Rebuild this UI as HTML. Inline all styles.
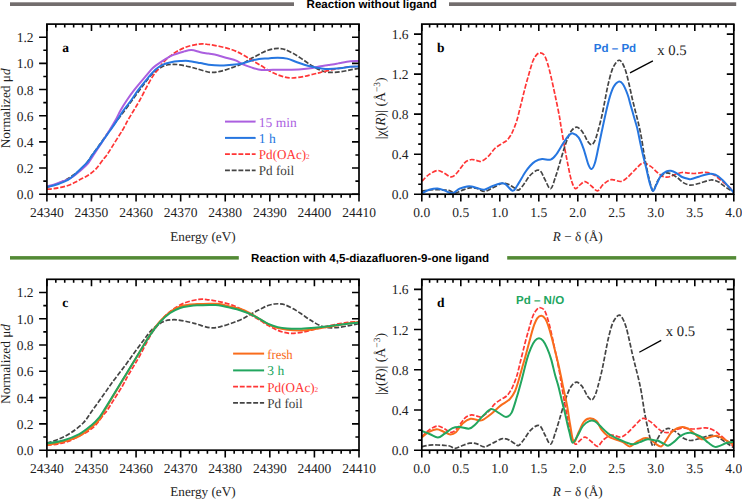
<!DOCTYPE html><html><head><meta charset="utf-8"><style>
html,body{margin:0;padding:0;background:#fff;}
svg{display:block;text-rendering:geometricPrecision;}
.t{font-family:"Liberation Serif",serif;font-size:13.5px;fill:#1e1e1e;}
.b{font-family:"Liberation Serif",serif;font-size:13.5px;font-weight:bold;fill:#000;}
.h{font-family:"Liberation Sans",sans-serif;font-size:11.55px;font-weight:bold;fill:#000;}
.s{font-family:"Liberation Sans",sans-serif;font-size:11.55px;font-weight:bold;}
</style></head><body>
<svg width="742" height="499" viewBox="0 0 742 499">
<defs>
<clipPath id="ca"><rect x="46.90" y="22.10" width="312.10" height="174.10"/></clipPath>
<clipPath id="cb"><rect x="421.80" y="22.10" width="312.00" height="174.10"/></clipPath>
<clipPath id="cc"><rect x="46.90" y="277.30" width="312.10" height="174.90"/></clipPath>
<clipPath id="cd"><rect x="421.80" y="277.30" width="312.00" height="174.90"/></clipPath>
</defs>
<rect x="10" y="2.3" width="284" height="3.7" fill="#726d6d"/>
<rect x="449" y="2.3" width="287.2" height="3.7" fill="#726d6d"/>
<text x="306.6" y="8.1" class="h">Reaction without ligand</text>
<rect x="10" y="256.1" width="228.8" height="3.5" fill="#538a35"/>
<rect x="507.2" y="256.1" width="229" height="3.5" fill="#538a35"/>
<text x="251.1" y="262.2" class="h">Reaction with 4,5-diazafluoren-9-one ligand</text>
<path d="M46.90,187.20 C48.93,186.52 55.03,184.87 59.10,183.10 C63.17,181.33 67.25,179.30 71.30,176.60 C75.35,173.90 79.90,170.53 83.40,166.90 C86.90,163.27 89.00,159.35 92.30,154.80 C95.60,150.25 99.58,144.67 103.20,139.60 C106.82,134.53 110.35,129.33 114.00,124.40 C117.65,119.47 121.68,114.57 125.10,110.00 C128.52,105.43 131.35,101.30 134.50,97.00 C137.65,92.70 141.08,88.00 144.00,84.20 C146.92,80.40 148.82,77.18 152.00,74.20 C155.18,71.22 159.75,67.93 163.10,66.30 C166.45,64.67 169.27,64.63 172.10,64.40 C174.93,64.17 177.12,64.48 180.10,64.90 C183.08,65.32 187.17,66.25 190.00,66.90 C192.83,67.55 193.75,67.90 197.10,68.80 C200.45,69.70 206.28,71.87 210.10,72.30 C213.92,72.73 216.33,72.18 220.00,71.40 C223.67,70.62 228.30,68.93 232.10,67.60 C235.90,66.27 239.92,64.77 242.80,63.40 C245.68,62.03 247.30,60.57 249.40,59.40 C251.50,58.23 253.37,57.45 255.40,56.40 C257.43,55.35 259.50,54.13 261.60,53.10 C263.70,52.07 265.82,50.93 268.00,50.20 C270.18,49.47 272.70,48.98 274.70,48.70 C276.70,48.42 278.23,48.35 280.00,48.50 C281.77,48.65 283.17,48.82 285.30,49.60 C287.43,50.38 290.28,51.82 292.80,53.20 C295.32,54.58 297.88,56.25 300.40,57.90 C302.92,59.55 305.92,61.77 307.90,63.10 C309.88,64.43 310.22,64.70 312.30,65.90 C314.38,67.10 317.70,69.23 320.40,70.30 C323.10,71.37 325.23,72.03 328.50,72.30 C331.77,72.57 336.35,72.30 340.00,71.90 C343.65,71.50 347.23,70.50 350.40,69.90 C353.57,69.30 357.57,68.57 359.00,68.30" fill="none" stroke="#444444" stroke-width="1.70" stroke-dasharray="4.9 1.8" stroke-linejoin="round" clip-path="url(#ca)"/>
<path d="M46.90,189.20 C48.02,189.10 51.28,188.90 53.60,188.60 C55.92,188.30 58.40,187.92 60.80,187.40 C63.20,186.88 65.72,186.30 68.00,185.50 C70.28,184.70 72.33,183.67 74.50,182.60 C76.67,181.53 78.85,180.23 81.00,179.10 C83.15,177.97 84.98,177.42 87.40,175.80 C89.82,174.18 92.80,172.22 95.50,169.40 C98.20,166.58 101.68,161.33 103.60,158.90 C105.52,156.47 105.13,157.55 107.00,154.80 C108.87,152.05 112.20,146.53 114.80,142.40 C117.40,138.27 120.40,133.73 122.60,130.00 C124.80,126.27 126.10,123.33 128.00,120.00 C129.90,116.67 132.02,113.33 134.00,110.00 C135.98,106.67 137.83,103.75 139.90,100.00 C141.97,96.25 144.25,91.47 146.40,87.50 C148.55,83.53 150.78,79.30 152.80,76.20 C154.82,73.10 156.73,71.20 158.50,68.90 C160.27,66.60 161.13,64.78 163.40,62.40 C165.67,60.02 168.62,57.05 172.10,54.60 C175.58,52.15 179.85,49.45 184.30,47.70 C188.75,45.95 194.77,44.63 198.80,44.10 C202.83,43.57 204.97,44.10 208.50,44.50 C212.03,44.90 216.07,45.63 220.00,46.50 C223.93,47.37 228.45,48.42 232.10,49.70 C235.75,50.98 238.70,52.52 241.90,54.20 C245.10,55.88 248.15,57.92 251.30,59.80 C254.45,61.68 257.97,63.77 260.80,65.50 C263.63,67.23 265.80,68.78 268.30,70.20 C270.80,71.62 273.35,72.93 275.80,74.00 C278.25,75.07 280.28,75.93 283.00,76.60 C285.72,77.27 288.55,78.03 292.10,78.00 C295.65,77.97 300.65,77.07 304.30,76.40 C307.95,75.73 311.37,74.63 314.00,74.00 C316.63,73.37 317.62,73.20 320.10,72.60 C322.58,72.00 325.58,71.13 328.90,70.40 C332.22,69.67 336.48,68.80 340.00,68.20 C343.52,67.60 346.83,67.10 350.00,66.80 C353.17,66.50 357.50,66.47 359.00,66.40" fill="none" stroke="#ff3535" stroke-width="1.70" stroke-dasharray="4.9 1.8" stroke-linejoin="round" clip-path="url(#ca)"/>
<path d="M46.90,186.50 C48.02,186.18 51.68,185.18 53.60,184.60 C55.52,184.02 56.80,183.57 58.40,183.00 C60.00,182.43 61.60,181.80 63.20,181.20 C64.80,180.60 66.40,180.13 68.00,179.40 C69.60,178.67 70.92,178.12 72.80,176.80 C74.68,175.48 76.87,173.62 79.30,171.50 C81.73,169.38 85.10,166.75 87.40,164.10 C89.70,161.45 90.75,159.12 93.10,155.60 C95.45,152.08 98.73,147.27 101.50,143.00 C104.27,138.73 107.35,133.83 109.70,130.00 C112.05,126.17 113.76,123.33 115.60,120.00 C117.44,116.67 118.85,113.33 120.75,110.00 C122.65,106.67 124.74,103.35 127.00,100.00 C129.26,96.65 131.07,94.00 134.30,89.90 C137.53,85.80 143.32,79.03 146.40,75.40 C149.48,71.77 150.53,70.22 152.80,68.10 C155.07,65.98 156.78,64.82 160.00,62.70 C163.22,60.58 168.05,57.28 172.10,55.40 C176.15,53.52 181.07,52.28 184.30,51.40 C187.53,50.52 188.82,49.97 191.50,50.10 C194.18,50.23 197.57,51.62 200.40,52.20 C203.23,52.78 205.80,53.13 208.50,53.60 C211.20,54.07 214.68,54.60 216.60,55.00 C218.52,55.40 218.08,55.47 220.00,56.00 C221.92,56.53 225.40,57.42 228.10,58.20 C230.80,58.98 233.72,59.67 236.20,60.70 C238.68,61.73 240.48,63.28 243.00,64.40 C245.52,65.52 248.18,66.47 251.30,67.40 C254.42,68.33 258.08,69.62 261.70,70.00 C265.32,70.38 268.75,69.75 273.00,69.70 C277.25,69.65 282.48,69.78 287.20,69.70 C291.92,69.62 297.12,69.50 301.30,69.20 C305.48,68.90 309.12,68.38 312.30,67.90 C315.48,67.42 317.70,66.77 320.40,66.30 C323.10,65.83 325.80,65.52 328.50,65.10 C331.20,64.68 334.63,64.17 336.60,63.80 C338.57,63.43 338.00,63.33 340.30,62.90 C342.60,62.47 347.28,61.52 350.40,61.20 C353.52,60.88 357.57,61.03 359.00,61.00" fill="none" stroke="#ab5fdf" stroke-width="2.00" stroke-linejoin="round" clip-path="url(#ca)"/>
<path d="M46.90,187.10 C48.02,186.83 51.68,186.02 53.60,185.50 C55.52,184.98 56.80,184.57 58.40,184.00 C60.00,183.43 61.60,182.78 63.20,182.10 C64.80,181.42 66.40,180.87 68.00,179.90 C69.60,178.93 70.92,177.92 72.80,176.30 C74.68,174.68 76.87,172.57 79.30,170.20 C81.73,167.83 85.10,164.80 87.40,162.10 C89.70,159.40 90.70,157.33 93.10,154.00 C95.50,150.67 98.90,146.10 101.80,142.10 C104.70,138.10 107.92,133.68 110.50,130.00 C113.08,126.32 115.05,123.33 117.25,120.00 C119.45,116.67 121.34,113.33 123.70,110.00 C126.06,106.67 128.97,103.35 131.40,100.00 C133.83,96.65 135.53,93.60 138.30,89.90 C141.07,86.20 145.17,81.17 148.00,77.80 C150.83,74.43 152.88,71.85 155.30,69.70 C157.72,67.55 160.05,66.12 162.50,64.90 C164.95,63.68 167.05,63.03 170.00,62.40 C172.95,61.77 177.15,61.35 180.20,61.10 C183.25,60.85 184.93,60.57 188.30,60.90 C191.67,61.23 197.03,62.47 200.40,63.10 C203.77,63.73 205.23,64.30 208.50,64.70 C211.77,65.10 216.07,65.50 220.00,65.50 C223.93,65.50 228.77,64.95 232.10,64.70 C235.43,64.45 237.12,64.58 240.00,64.00 C242.88,63.42 246.25,62.05 249.40,61.20 C252.55,60.35 255.75,59.37 258.90,58.90 C262.05,58.43 265.17,58.60 268.30,58.40 C271.43,58.20 274.55,57.67 277.70,57.70 C280.85,57.73 284.08,57.88 287.20,58.60 C290.32,59.32 293.55,60.98 296.40,62.00 C299.25,63.02 301.65,63.92 304.30,64.70 C306.95,65.48 309.62,66.10 312.30,66.70 C314.98,67.30 317.70,67.90 320.40,68.30 C323.10,68.70 325.23,69.10 328.50,69.10 C331.77,69.10 336.35,68.70 340.00,68.30 C343.65,67.90 347.23,67.00 350.40,66.70 C353.57,66.40 357.57,66.53 359.00,66.50" fill="none" stroke="#2676e0" stroke-width="2.00" stroke-linejoin="round" clip-path="url(#ca)"/>
<path d="M46.90,194.20 V201.40 M46.90,24.10 V31.10 M91.49,194.20 V201.40 M91.49,24.10 V31.10 M136.07,194.20 V201.40 M136.07,24.10 V31.10 M180.66,194.20 V201.40 M180.66,24.10 V31.10 M225.24,194.20 V201.40 M225.24,24.10 V31.10 M269.83,194.20 V201.40 M269.83,24.10 V31.10 M314.41,194.20 V201.40 M314.41,24.10 V31.10 M359.00,194.20 V201.40 M359.00,24.10 V31.10 M55.82,194.20 V197.80 M55.82,24.10 V27.50 M64.73,194.20 V197.80 M64.73,24.10 V27.50 M73.65,194.20 V197.80 M73.65,24.10 V27.50 M82.57,194.20 V197.80 M82.57,24.10 V27.50 M100.40,194.20 V197.80 M100.40,24.10 V27.50 M109.32,194.20 V197.80 M109.32,24.10 V27.50 M118.24,194.20 V197.80 M118.24,24.10 V27.50 M127.15,194.20 V197.80 M127.15,24.10 V27.50 M144.99,194.20 V197.80 M144.99,24.10 V27.50 M153.91,194.20 V197.80 M153.91,24.10 V27.50 M162.82,194.20 V197.80 M162.82,24.10 V27.50 M171.74,194.20 V197.80 M171.74,24.10 V27.50 M189.57,194.20 V197.80 M189.57,24.10 V27.50 M198.49,194.20 V197.80 M198.49,24.10 V27.50 M207.41,194.20 V197.80 M207.41,24.10 V27.50 M216.33,194.20 V197.80 M216.33,24.10 V27.50 M234.16,194.20 V197.80 M234.16,24.10 V27.50 M243.08,194.20 V197.80 M243.08,24.10 V27.50 M251.99,194.20 V197.80 M251.99,24.10 V27.50 M260.91,194.20 V197.80 M260.91,24.10 V27.50 M278.75,194.20 V197.80 M278.75,24.10 V27.50 M287.66,194.20 V197.80 M287.66,24.10 V27.50 M296.58,194.20 V197.80 M296.58,24.10 V27.50 M305.50,194.20 V197.80 M305.50,24.10 V27.50 M323.33,194.20 V197.80 M323.33,24.10 V27.50 M332.25,194.20 V197.80 M332.25,24.10 V27.50 M341.17,194.20 V197.80 M341.17,24.10 V27.50 M350.08,194.20 V197.80 M350.08,24.10 V27.50" stroke="#000" stroke-width="1.6" fill="none"/>
<text x="46.90" y="216.90" text-anchor="middle" class="t">24340</text>
<text x="91.49" y="216.90" text-anchor="middle" class="t">24350</text>
<text x="136.07" y="216.90" text-anchor="middle" class="t">24360</text>
<text x="180.66" y="216.90" text-anchor="middle" class="t">24370</text>
<text x="225.24" y="216.90" text-anchor="middle" class="t">24380</text>
<text x="269.83" y="216.90" text-anchor="middle" class="t">24390</text>
<text x="314.41" y="216.90" text-anchor="middle" class="t">24400</text>
<text x="359.00" y="216.90" text-anchor="middle" class="t">24410</text>
<path d="M46.90,194.20 H39.10 M359.00,194.20 H352.00 M46.90,168.03 H39.10 M359.00,168.03 H352.00 M46.90,141.86 H39.10 M359.00,141.86 H352.00 M46.90,115.69 H39.10 M359.00,115.69 H352.00 M46.90,89.52 H39.10 M359.00,89.52 H352.00 M46.90,63.35 H39.10 M359.00,63.35 H352.00 M46.90,37.18 H39.10 M359.00,37.18 H352.00 M46.90,181.12 H43.30 M359.00,181.12 H355.40 M46.90,154.95 H43.30 M359.00,154.95 H355.40 M46.90,128.78 H43.30 M359.00,128.78 H355.40 M46.90,102.61 H43.30 M359.00,102.61 H355.40 M46.90,76.44 H43.30 M359.00,76.44 H355.40 M46.90,50.27 H43.30 M359.00,50.27 H355.40" stroke="#000" stroke-width="1.6" fill="none"/>
<text x="33.60" y="199.20" text-anchor="end" class="t">0.0</text>
<text x="33.60" y="173.03" text-anchor="end" class="t">0.2</text>
<text x="33.60" y="146.86" text-anchor="end" class="t">0.4</text>
<text x="33.60" y="120.69" text-anchor="end" class="t">0.6</text>
<text x="33.60" y="94.52" text-anchor="end" class="t">0.8</text>
<text x="33.60" y="68.35" text-anchor="end" class="t">1.0</text>
<text x="33.60" y="42.18" text-anchor="end" class="t">1.2</text>
<rect x="46.90" y="24.10" width="312.10" height="170.10" fill="none" stroke="#000" stroke-width="1.7"/>
<text transform="translate(10.10,108.35) rotate(-90)" text-anchor="middle" class="t" style="font-size:13.3px">Normalized μ<tspan font-style="italic">d</tspan></text>
<text x="202.95" y="240.50" text-anchor="middle" class="t" style="font-size:13.2px">Energy (eV)</text>
<text x="62.2" y="52.3" class="b">a</text>
<line x1="225.00" y1="121.60" x2="255.60" y2="121.60" stroke="#ab5fdf" stroke-width="2.00"/>
<text x="258.80" y="126.60" class="t" style="fill:#ab5fdf">15 min</text>
<line x1="225.00" y1="137.90" x2="255.60" y2="137.90" stroke="#2676e0" stroke-width="2.00"/>
<text x="258.80" y="142.90" class="t" style="fill:#2676e0">1 h</text>
<line x1="225.00" y1="154.10" x2="255.60" y2="154.10" stroke="#ff3535" stroke-width="1.70" stroke-dasharray="4.9 1.8"/>
<text x="258.80" y="159.10" class="t" style="fill:#ff3535" textLength="50.92" lengthAdjust="spacingAndGlyphs">Pd(OAc)<tspan style="font-size:7.5px">2</tspan></text>
<line x1="225.00" y1="170.40" x2="255.60" y2="170.40" stroke="#444444" stroke-width="1.70" stroke-dasharray="4.9 1.8"/>
<text x="258.80" y="175.40" class="t" style="fill:#3c3c3c" textLength="35.29" lengthAdjust="spacingAndGlyphs">Pd foil</text>
<path d="M421.80,181.20 C423.03,180.07 426.58,176.18 429.20,174.40 C431.82,172.62 435.03,170.73 437.50,170.50 C439.97,170.27 441.70,171.93 444.00,173.00 C446.30,174.07 449.15,176.90 451.30,176.90 C453.45,176.90 455.05,174.87 456.90,173.00 C458.75,171.13 460.87,167.62 462.40,165.70 C463.93,163.78 464.57,162.53 466.10,161.50 C467.63,160.47 469.78,159.65 471.60,159.50 C473.42,159.35 475.35,160.30 477.00,160.60 C478.65,160.90 479.63,162.00 481.50,161.30 C483.37,160.60 485.98,158.53 488.20,156.40 C490.42,154.27 492.60,150.58 494.80,148.50 C497.00,146.42 499.42,145.22 501.40,143.90 C503.38,142.58 505.15,142.03 506.70,140.60 C508.25,139.17 509.60,137.07 510.70,135.30 C511.80,133.53 512.25,132.55 513.30,130.00 C514.35,127.45 515.72,124.32 517.00,120.00 C518.28,115.68 519.67,109.42 521.00,104.10 C522.33,98.78 523.67,93.17 525.00,88.10 C526.33,83.03 527.67,78.25 529.00,73.70 C530.33,69.15 531.67,64.02 533.00,60.80 C534.33,57.58 535.78,55.73 537.00,54.40 C538.22,53.07 539.08,52.67 540.30,52.80 C541.52,52.93 543.10,53.47 544.30,55.20 C545.50,56.93 546.43,59.85 547.50,63.20 C548.57,66.55 549.63,70.88 550.70,75.30 C551.77,79.72 552.97,85.43 553.90,89.70 C554.83,93.97 555.37,96.37 556.30,100.90 C557.23,105.43 558.70,112.53 559.50,116.90 C560.30,121.27 560.25,122.02 561.10,127.10 C561.95,132.18 563.43,140.97 564.60,147.40 C565.77,153.83 566.93,160.08 568.10,165.70 C569.27,171.32 570.38,177.28 571.60,181.10 C572.82,184.92 574.00,187.97 575.40,188.60 C576.80,189.23 578.38,186.07 580.00,184.90 C581.62,183.73 583.17,181.38 585.10,181.60 C587.03,181.82 589.52,184.67 591.60,186.20 C593.68,187.73 595.62,191.13 597.60,190.80 C599.58,190.47 601.20,186.07 603.50,184.20 C605.80,182.33 608.53,180.05 611.40,179.60 C614.27,179.15 618.05,181.83 620.70,181.50 C623.35,181.17 624.88,179.58 627.30,177.60 C629.72,175.62 632.60,172.03 635.20,169.60 C637.80,167.17 640.32,163.53 642.90,163.00 C645.48,162.47 648.28,164.82 650.70,166.40 C653.12,167.98 655.35,170.83 657.40,172.50 C659.45,174.17 661.13,175.65 663.00,176.40 C664.87,177.15 666.72,177.27 668.60,177.00 C670.48,176.73 672.05,175.55 674.30,174.80 C676.55,174.05 679.68,172.78 682.10,172.50 C684.52,172.22 686.78,172.93 688.80,173.10 C690.82,173.27 692.07,173.58 694.20,173.50 C696.33,173.42 699.30,172.75 701.60,172.60 C703.90,172.45 705.85,172.15 708.00,172.60 C710.15,173.05 712.50,174.15 714.50,175.30 C716.50,176.45 718.15,178.03 720.00,179.50 C721.85,180.97 723.90,182.72 725.60,184.10 C727.30,185.48 728.83,186.65 730.20,187.80 C731.57,188.95 733.20,190.47 733.80,191.00" fill="none" stroke="#ff3535" stroke-width="1.70" stroke-dasharray="4.9 1.8" stroke-linejoin="round" clip-path="url(#cb)"/>
<path d="M421.80,191.20 C423.08,190.97 426.88,190.07 429.50,189.80 C432.12,189.53 435.08,189.57 437.50,189.60 C439.92,189.63 442.00,189.83 444.00,190.00 C446.00,190.17 447.67,190.12 449.50,190.60 C451.33,191.08 453.00,192.90 455.00,192.90 C457.00,192.90 459.03,191.45 461.50,190.60 C463.97,189.75 467.22,188.15 469.80,187.80 C472.38,187.45 474.58,187.88 477.00,188.50 C479.42,189.12 481.77,191.57 484.30,191.50 C486.83,191.43 489.35,189.43 492.20,188.10 C495.05,186.77 499.10,184.25 501.40,183.50 C503.70,182.75 504.67,183.38 506.00,183.60 C507.33,183.82 507.97,184.05 509.40,184.80 C510.83,185.55 513.07,187.22 514.60,188.10 C516.13,188.98 517.05,190.75 518.60,190.10 C520.15,189.45 522.00,186.63 523.90,184.20 C525.80,181.77 527.83,177.82 530.00,175.50 C532.17,173.18 535.07,170.92 536.90,170.30 C538.73,169.68 539.65,170.23 541.00,171.80 C542.35,173.37 543.40,176.87 545.00,179.70 C546.60,182.53 548.85,189.27 550.60,188.80 C552.35,188.33 554.10,180.75 555.50,176.90 C556.90,173.05 557.72,169.92 559.00,165.70 C560.28,161.48 561.80,156.05 563.20,151.60 C564.60,147.15 566.00,142.50 567.40,139.00 C568.80,135.50 570.07,132.58 571.60,130.60 C573.13,128.62 574.95,127.10 576.60,127.10 C578.25,127.10 580.10,129.08 581.50,130.60 C582.90,132.12 583.98,134.43 585.00,136.20 C586.02,137.97 586.50,139.77 587.60,141.20 C588.70,142.63 590.38,144.90 591.60,144.80 C592.82,144.70 593.88,142.73 594.90,140.60 C595.92,138.47 596.55,136.08 597.70,132.00 C598.85,127.92 600.58,121.42 601.80,116.10 C603.02,110.78 603.93,105.43 605.00,100.10 C606.07,94.77 607.00,89.18 608.20,84.10 C609.40,79.02 610.85,73.22 612.20,69.60 C613.55,65.98 615.08,63.95 616.30,62.40 C617.52,60.85 618.42,60.03 619.50,60.30 C620.58,60.57 621.72,62.05 622.80,64.00 C623.88,65.95 624.93,68.53 626.00,72.00 C627.07,75.47 628.13,80.25 629.20,84.80 C630.27,89.35 631.33,94.75 632.40,99.30 C633.47,103.85 634.53,107.83 635.60,112.10 C636.67,116.37 637.82,120.58 638.80,124.90 C639.78,129.22 640.55,132.68 641.50,138.00 C642.45,143.32 643.43,150.87 644.50,156.80 C645.57,162.73 646.77,168.55 647.90,173.60 C649.03,178.65 650.37,184.28 651.30,187.10 C652.23,189.92 652.48,191.43 653.50,190.50 C654.52,189.57 655.82,184.22 657.40,181.50 C658.98,178.78 661.13,175.60 663.00,174.20 C664.87,172.80 666.35,172.63 668.60,173.10 C670.85,173.57 674.07,175.42 676.50,177.00 C678.93,178.58 681.15,181.28 683.20,182.60 C685.25,183.92 687.27,184.50 688.80,184.90 C690.33,185.30 690.58,185.28 692.40,185.00 C694.22,184.72 696.63,184.03 699.70,183.20 C702.77,182.37 707.72,180.23 710.80,180.00 C713.88,179.77 715.90,180.73 718.20,181.80 C720.50,182.87 722.45,184.93 724.60,186.40 C726.75,187.87 729.57,189.62 731.10,190.60 C732.63,191.58 733.35,192.02 733.80,192.30" fill="none" stroke="#444444" stroke-width="1.70" stroke-dasharray="4.9 1.8" stroke-linejoin="round" clip-path="url(#cb)"/>
<path d="M421.80,193.20 C423.03,192.63 426.58,190.58 429.20,189.80 C431.82,189.02 434.88,188.37 437.50,188.50 C440.12,188.63 442.43,189.80 444.90,190.60 C447.37,191.40 449.85,193.62 452.30,193.30 C454.75,192.98 457.15,189.85 459.60,188.70 C462.05,187.55 465.00,186.78 467.00,186.40 C469.00,186.02 469.93,186.13 471.60,186.40 C473.27,186.67 474.88,187.45 477.00,188.00 C479.12,188.55 481.77,190.00 484.30,189.70 C486.83,189.40 489.57,187.23 492.20,186.20 C494.83,185.17 497.90,183.83 500.10,183.50 C502.30,183.17 503.30,182.98 505.40,184.20 C507.50,185.42 510.72,190.58 512.70,190.80 C514.68,191.02 515.22,188.58 517.30,185.50 C519.38,182.42 523.08,175.55 525.20,172.30 C527.32,169.05 528.33,167.82 530.00,166.00 C531.67,164.18 533.18,162.55 535.20,161.40 C537.22,160.25 539.53,159.40 542.10,159.10 C544.67,158.80 548.25,160.37 550.60,159.60 C552.95,158.83 554.10,157.23 556.20,154.50 C558.30,151.77 561.10,146.37 563.20,143.20 C565.30,140.03 567.17,137.13 568.80,135.50 C570.43,133.87 571.35,133.05 573.00,133.40 C574.65,133.75 576.93,135.03 578.70,137.60 C580.47,140.17 582.00,144.33 583.60,148.80 C585.20,153.27 586.97,161.03 588.30,164.40 C589.63,167.77 590.50,169.23 591.60,169.00 C592.70,168.77 593.80,166.42 594.90,163.00 C596.00,159.58 597.05,153.78 598.20,148.50 C599.35,143.22 600.53,137.23 601.80,131.30 C603.07,125.37 604.47,118.63 605.80,112.90 C607.13,107.17 608.47,101.30 609.80,96.90 C611.13,92.50 612.32,89.05 613.80,86.50 C615.28,83.95 617.20,82.02 618.70,81.60 C620.20,81.18 621.32,81.85 622.80,84.00 C624.28,86.15 626.27,90.88 627.60,94.50 C628.93,98.12 629.73,101.97 630.80,105.70 C631.87,109.43 632.93,113.17 634.00,116.90 C635.07,120.63 636.15,123.75 637.20,128.10 C638.25,132.45 639.33,138.52 640.30,143.00 C641.27,147.48 642.02,150.83 643.00,155.00 C643.98,159.17 645.10,163.40 646.20,168.00 C647.30,172.60 648.48,178.77 649.60,182.60 C650.72,186.43 651.78,190.62 652.90,191.00 C654.02,191.38 654.98,187.42 656.30,184.90 C657.62,182.38 659.12,178.15 660.80,175.90 C662.48,173.65 664.72,172.25 666.40,171.40 C668.08,170.55 669.22,170.52 670.90,170.80 C672.58,171.08 674.63,172.07 676.50,173.10 C678.37,174.13 680.05,176.02 682.10,177.00 C684.15,177.98 687.23,178.67 688.80,179.00 C690.37,179.33 689.83,179.38 691.50,179.00 C693.17,178.62 696.35,177.47 698.80,176.70 C701.25,175.93 703.90,174.85 706.20,174.40 C708.50,173.95 710.60,173.68 712.60,174.00 C714.60,174.32 716.35,175.08 718.20,176.30 C720.05,177.52 722.02,179.62 723.70,181.30 C725.38,182.98 726.62,184.53 728.30,186.40 C729.98,188.27 732.88,191.48 733.80,192.50" fill="none" stroke="#2676e0" stroke-width="2.00" stroke-linejoin="round" clip-path="url(#cb)"/>
<path d="M421.80,194.20 V201.40 M421.80,24.10 V31.10 M460.80,194.20 V201.40 M460.80,24.10 V31.10 M499.80,194.20 V201.40 M499.80,24.10 V31.10 M538.80,194.20 V201.40 M538.80,24.10 V31.10 M577.80,194.20 V201.40 M577.80,24.10 V31.10 M616.80,194.20 V201.40 M616.80,24.10 V31.10 M655.80,194.20 V201.40 M655.80,24.10 V31.10 M694.80,194.20 V201.40 M694.80,24.10 V31.10 M733.80,194.20 V201.40 M733.80,24.10 V31.10 M429.60,194.20 V197.80 M429.60,24.10 V27.50 M437.40,194.20 V197.80 M437.40,24.10 V27.50 M445.20,194.20 V197.80 M445.20,24.10 V27.50 M453.00,194.20 V197.80 M453.00,24.10 V27.50 M468.60,194.20 V197.80 M468.60,24.10 V27.50 M476.40,194.20 V197.80 M476.40,24.10 V27.50 M484.20,194.20 V197.80 M484.20,24.10 V27.50 M492.00,194.20 V197.80 M492.00,24.10 V27.50 M507.60,194.20 V197.80 M507.60,24.10 V27.50 M515.40,194.20 V197.80 M515.40,24.10 V27.50 M523.20,194.20 V197.80 M523.20,24.10 V27.50 M531.00,194.20 V197.80 M531.00,24.10 V27.50 M546.60,194.20 V197.80 M546.60,24.10 V27.50 M554.40,194.20 V197.80 M554.40,24.10 V27.50 M562.20,194.20 V197.80 M562.20,24.10 V27.50 M570.00,194.20 V197.80 M570.00,24.10 V27.50 M585.60,194.20 V197.80 M585.60,24.10 V27.50 M593.40,194.20 V197.80 M593.40,24.10 V27.50 M601.20,194.20 V197.80 M601.20,24.10 V27.50 M609.00,194.20 V197.80 M609.00,24.10 V27.50 M624.60,194.20 V197.80 M624.60,24.10 V27.50 M632.40,194.20 V197.80 M632.40,24.10 V27.50 M640.20,194.20 V197.80 M640.20,24.10 V27.50 M648.00,194.20 V197.80 M648.00,24.10 V27.50 M663.60,194.20 V197.80 M663.60,24.10 V27.50 M671.40,194.20 V197.80 M671.40,24.10 V27.50 M679.20,194.20 V197.80 M679.20,24.10 V27.50 M687.00,194.20 V197.80 M687.00,24.10 V27.50 M702.60,194.20 V197.80 M702.60,24.10 V27.50 M710.40,194.20 V197.80 M710.40,24.10 V27.50 M718.20,194.20 V197.80 M718.20,24.10 V27.50 M726.00,194.20 V197.80 M726.00,24.10 V27.50" stroke="#000" stroke-width="1.6" fill="none"/>
<text x="421.80" y="216.90" text-anchor="middle" class="t">0.0</text>
<text x="460.80" y="216.90" text-anchor="middle" class="t">0.5</text>
<text x="499.80" y="216.90" text-anchor="middle" class="t">1.0</text>
<text x="538.80" y="216.90" text-anchor="middle" class="t">1.5</text>
<text x="577.80" y="216.90" text-anchor="middle" class="t">2.0</text>
<text x="616.80" y="216.90" text-anchor="middle" class="t">2.5</text>
<text x="655.80" y="216.90" text-anchor="middle" class="t">3.0</text>
<text x="694.80" y="216.90" text-anchor="middle" class="t">3.5</text>
<text x="733.80" y="216.90" text-anchor="middle" class="t">4.0</text>
<path d="M421.80,194.20 H414.00 M733.80,194.20 H726.80 M421.80,154.18 H414.00 M733.80,154.18 H726.80 M421.80,114.15 H414.00 M733.80,114.15 H726.80 M421.80,74.13 H414.00 M733.80,74.13 H726.80 M421.80,34.11 H414.00 M733.80,34.11 H726.80 M421.80,184.19 H418.20 M733.80,184.19 H730.20 M421.80,174.19 H418.20 M733.80,174.19 H730.20 M421.80,164.18 H418.20 M733.80,164.18 H730.20 M421.80,144.17 H418.20 M733.80,144.17 H730.20 M421.80,134.16 H418.20 M733.80,134.16 H730.20 M421.80,124.16 H418.20 M733.80,124.16 H730.20 M421.80,104.15 H418.20 M733.80,104.15 H730.20 M421.80,94.14 H418.20 M733.80,94.14 H730.20 M421.80,84.14 H418.20 M733.80,84.14 H730.20 M421.80,64.12 H418.20 M733.80,64.12 H730.20 M421.80,54.12 H418.20 M733.80,54.12 H730.20 M421.80,44.11 H418.20 M733.80,44.11 H730.20" stroke="#000" stroke-width="1.6" fill="none"/>
<text x="408.50" y="199.20" text-anchor="end" class="t">0.0</text>
<text x="408.50" y="159.18" text-anchor="end" class="t">0.4</text>
<text x="408.50" y="119.15" text-anchor="end" class="t">0.8</text>
<text x="408.50" y="79.13" text-anchor="end" class="t">1.2</text>
<text x="408.50" y="39.11" text-anchor="end" class="t">1.6</text>
<rect x="421.80" y="24.10" width="312.00" height="170.10" fill="none" stroke="#000" stroke-width="1.7"/>
<text transform="translate(385.00,108.35) rotate(-90)" text-anchor="middle" class="t" style="font-size:13.8px">|χ(<tspan font-style="italic">R</tspan>)| (Å<tspan style="font-size:9.5px" dy="-5.5">−3</tspan><tspan dy="5.5">)</tspan></text>
<text x="577.80" y="240.50" text-anchor="middle" class="t" style="font-size:13.2px"><tspan font-style="italic">R</tspan> − δ (Å)</text>
<text x="437" y="52.2" class="b">b</text>
<text x="593.8" y="52.3" class="s" fill="#2676e0">Pd – Pd</text>
<text x="657.3" y="55.3" class="t" style="font-size:14.7px">x 0.5</text>
<line x1="630" y1="72.8" x2="652.9" y2="60.8" stroke="#000" stroke-width="1.3"/>
<path d="M46.90,443.17 C48.93,442.48 55.03,440.82 59.10,439.05 C63.17,437.27 67.25,435.23 71.30,432.52 C75.35,429.80 79.90,426.42 83.40,422.77 C86.90,419.12 89.00,415.19 92.30,410.61 C95.60,406.04 99.58,400.43 103.20,395.34 C106.82,390.25 110.35,385.03 114.00,380.07 C117.65,375.12 121.68,370.19 125.10,365.60 C128.52,361.02 131.35,356.86 134.50,352.54 C137.65,348.22 141.08,343.50 144.00,339.68 C146.92,335.86 148.82,332.63 152.00,329.64 C155.18,326.64 159.75,323.34 163.10,321.70 C166.45,320.06 169.27,320.02 172.10,319.79 C174.93,319.56 177.12,319.87 180.10,320.29 C183.08,320.71 187.17,321.65 190.00,322.30 C192.83,322.95 193.75,323.31 197.10,324.21 C200.45,325.11 206.28,327.29 210.10,327.73 C213.92,328.16 216.33,327.61 220.00,326.82 C223.67,326.04 228.30,324.34 232.10,323.00 C235.90,321.66 239.92,320.16 242.80,318.78 C245.68,317.41 247.30,315.94 249.40,314.77 C251.50,313.59 253.37,312.81 255.40,311.75 C257.43,310.70 259.50,309.47 261.60,308.44 C263.70,307.40 265.82,306.26 268.00,305.52 C270.18,304.79 272.70,304.30 274.70,304.02 C276.70,303.73 278.23,303.66 280.00,303.81 C281.77,303.97 283.17,304.13 285.30,304.92 C287.43,305.71 290.28,307.15 292.80,308.54 C295.32,309.93 297.88,311.60 300.40,313.26 C302.92,314.92 305.92,317.14 307.90,318.48 C309.88,319.82 310.22,320.09 312.30,321.30 C314.38,322.50 317.70,324.65 320.40,325.72 C323.10,326.79 325.23,327.46 328.50,327.73 C331.77,327.99 336.35,327.73 340.00,327.32 C343.65,326.92 347.23,325.92 350.40,325.32 C353.57,324.71 357.57,323.98 359.00,323.71" fill="none" stroke="#444444" stroke-width="1.70" stroke-dasharray="4.9 1.8" stroke-linejoin="round" clip-path="url(#cc)"/>
<path d="M46.90,445.18 C48.02,445.08 51.28,444.88 53.60,444.57 C55.92,444.27 58.40,443.89 60.80,443.37 C63.20,442.85 65.72,442.26 68.00,441.46 C70.28,440.66 72.33,439.62 74.50,438.55 C76.67,437.47 78.85,436.17 81.00,435.03 C83.15,433.89 84.98,433.34 87.40,431.71 C89.82,430.09 92.80,428.11 95.50,425.28 C98.20,422.45 101.68,417.18 103.60,414.73 C105.52,412.29 105.13,413.38 107.00,410.61 C108.87,407.85 112.20,402.31 114.80,398.16 C117.40,394.00 120.40,389.45 122.60,385.70 C124.80,381.95 126.10,379.00 128.00,375.65 C129.90,372.30 132.02,368.95 134.00,365.60 C135.98,362.25 137.83,359.32 139.90,355.56 C141.97,351.79 144.25,346.98 146.40,343.00 C148.55,339.01 150.78,334.76 152.80,331.65 C154.82,328.53 156.73,326.62 158.50,324.31 C160.27,322.00 161.13,320.17 163.40,317.78 C165.67,315.39 168.62,312.40 172.10,309.94 C175.58,307.48 179.85,304.77 184.30,303.01 C188.75,301.25 194.77,299.93 198.80,299.39 C202.83,298.86 204.97,299.39 208.50,299.80 C212.03,300.20 216.07,300.93 220.00,301.81 C223.93,302.68 228.45,303.73 232.10,305.02 C235.75,306.31 238.70,307.85 241.90,309.54 C245.10,311.23 248.15,313.28 251.30,315.17 C254.45,317.06 257.97,319.15 260.80,320.89 C263.63,322.64 265.80,324.19 268.30,325.62 C270.80,327.04 273.35,328.36 275.80,329.43 C278.25,330.51 280.28,331.38 283.00,332.05 C285.72,332.72 288.55,333.49 292.10,333.45 C295.65,333.42 300.65,332.52 304.30,331.85 C307.95,331.18 311.37,330.07 314.00,329.43 C316.63,328.80 317.62,328.63 320.10,328.03 C322.58,327.43 325.58,326.55 328.90,325.82 C332.22,325.08 336.48,324.21 340.00,323.61 C343.52,323.00 346.83,322.50 350.00,322.20 C353.17,321.90 357.50,321.87 359.00,321.80" fill="none" stroke="#ff3535" stroke-width="1.70" stroke-dasharray="4.9 1.8" stroke-linejoin="round" clip-path="url(#cc)"/>
<path d="M46.90,445.00 C49.62,444.47 57.80,443.28 63.20,441.80 C68.60,440.32 74.58,438.57 79.30,436.10 C84.02,433.63 88.13,429.77 91.50,427.00 C94.87,424.23 97.35,422.17 99.50,419.50 C101.65,416.83 102.07,415.02 104.40,411.00 C106.73,406.98 110.48,400.48 113.50,395.40 C116.52,390.32 119.50,385.48 122.50,380.50 C125.50,375.52 128.50,370.48 131.50,365.50 C134.50,360.52 137.42,355.72 140.50,350.60 C143.58,345.48 146.73,339.70 150.00,334.80 C153.27,329.90 156.75,325.00 160.10,321.20 C163.45,317.40 166.77,314.45 170.10,312.00 C173.43,309.55 176.78,307.75 180.10,306.50 C183.42,305.25 187.17,304.90 190.00,304.50 C192.83,304.10 193.88,304.23 197.10,304.10 C200.32,303.97 206.27,303.77 209.30,303.70 C212.33,303.63 213.28,303.60 215.30,303.70 C217.32,303.80 219.03,303.85 221.40,304.30 C223.77,304.75 226.40,305.65 229.50,306.40 C232.60,307.15 236.68,307.73 240.00,308.80 C243.32,309.87 246.25,311.17 249.40,312.80 C252.55,314.43 255.75,316.67 258.90,318.60 C262.05,320.53 265.17,322.82 268.30,324.40 C271.43,325.98 274.55,327.22 277.70,328.10 C280.85,328.98 283.65,329.30 287.20,329.70 C290.75,330.10 294.95,330.50 299.00,330.50 C303.05,330.50 307.32,330.18 311.50,329.70 C315.68,329.22 319.92,328.30 324.10,327.60 C328.28,326.90 332.43,326.23 336.60,325.50 C340.77,324.77 345.37,323.77 349.10,323.20 C352.83,322.63 357.35,322.28 359.00,322.10" fill="none" stroke="#f96c1c" stroke-width="2.00" stroke-linejoin="round" clip-path="url(#cc)"/>
<path d="M46.90,443.60 C49.62,443.08 57.80,442.08 63.20,440.50 C68.60,438.92 74.58,436.65 79.30,434.10 C84.02,431.55 88.13,428.03 91.50,425.20 C94.87,422.37 97.35,419.72 99.50,417.10 C101.65,414.48 102.07,413.22 104.40,409.50 C106.73,405.78 110.48,399.70 113.50,394.80 C116.52,389.90 119.50,385.02 122.50,380.10 C125.50,375.18 128.50,370.22 131.50,365.30 C134.50,360.38 137.42,355.63 140.50,350.60 C143.58,345.57 146.73,339.87 150.00,335.10 C153.27,330.33 156.75,325.68 160.10,322.00 C163.45,318.32 166.77,315.33 170.10,313.00 C173.43,310.67 176.78,309.17 180.10,308.00 C183.42,306.83 187.17,306.45 190.00,306.00 C192.83,305.55 193.88,305.48 197.10,305.30 C200.32,305.12 206.27,304.95 209.30,304.90 C212.33,304.85 213.28,304.87 215.30,305.00 C217.32,305.13 219.03,305.27 221.40,305.70 C223.77,306.13 226.40,306.85 229.50,307.60 C232.60,308.35 236.68,309.20 240.00,310.20 C243.32,311.20 246.25,312.20 249.40,313.60 C252.55,315.00 255.75,316.90 258.90,318.60 C262.05,320.30 265.17,322.38 268.30,323.80 C271.43,325.22 274.55,326.32 277.70,327.10 C280.85,327.88 283.65,328.22 287.20,328.50 C290.75,328.78 294.95,328.88 299.00,328.80 C303.05,328.72 307.32,328.35 311.50,328.00 C315.68,327.65 319.92,327.18 324.10,326.70 C328.28,326.22 332.43,325.65 336.60,325.10 C340.77,324.55 345.37,323.83 349.10,323.40 C352.83,322.97 357.35,322.65 359.00,322.50" fill="none" stroke="#22a65f" stroke-width="2.00" stroke-linejoin="round" clip-path="url(#cc)"/>
<path d="M46.90,450.20 V457.40 M46.90,279.30 V286.30 M91.49,450.20 V457.40 M91.49,279.30 V286.30 M136.07,450.20 V457.40 M136.07,279.30 V286.30 M180.66,450.20 V457.40 M180.66,279.30 V286.30 M225.24,450.20 V457.40 M225.24,279.30 V286.30 M269.83,450.20 V457.40 M269.83,279.30 V286.30 M314.41,450.20 V457.40 M314.41,279.30 V286.30 M359.00,450.20 V457.40 M359.00,279.30 V286.30 M55.82,450.20 V453.80 M55.82,279.30 V282.70 M64.73,450.20 V453.80 M64.73,279.30 V282.70 M73.65,450.20 V453.80 M73.65,279.30 V282.70 M82.57,450.20 V453.80 M82.57,279.30 V282.70 M100.40,450.20 V453.80 M100.40,279.30 V282.70 M109.32,450.20 V453.80 M109.32,279.30 V282.70 M118.24,450.20 V453.80 M118.24,279.30 V282.70 M127.15,450.20 V453.80 M127.15,279.30 V282.70 M144.99,450.20 V453.80 M144.99,279.30 V282.70 M153.91,450.20 V453.80 M153.91,279.30 V282.70 M162.82,450.20 V453.80 M162.82,279.30 V282.70 M171.74,450.20 V453.80 M171.74,279.30 V282.70 M189.57,450.20 V453.80 M189.57,279.30 V282.70 M198.49,450.20 V453.80 M198.49,279.30 V282.70 M207.41,450.20 V453.80 M207.41,279.30 V282.70 M216.33,450.20 V453.80 M216.33,279.30 V282.70 M234.16,450.20 V453.80 M234.16,279.30 V282.70 M243.08,450.20 V453.80 M243.08,279.30 V282.70 M251.99,450.20 V453.80 M251.99,279.30 V282.70 M260.91,450.20 V453.80 M260.91,279.30 V282.70 M278.75,450.20 V453.80 M278.75,279.30 V282.70 M287.66,450.20 V453.80 M287.66,279.30 V282.70 M296.58,450.20 V453.80 M296.58,279.30 V282.70 M305.50,450.20 V453.80 M305.50,279.30 V282.70 M323.33,450.20 V453.80 M323.33,279.30 V282.70 M332.25,450.20 V453.80 M332.25,279.30 V282.70 M341.17,450.20 V453.80 M341.17,279.30 V282.70 M350.08,450.20 V453.80 M350.08,279.30 V282.70" stroke="#000" stroke-width="1.6" fill="none"/>
<text x="46.90" y="472.80" text-anchor="middle" class="t">24340</text>
<text x="91.49" y="472.80" text-anchor="middle" class="t">24350</text>
<text x="136.07" y="472.80" text-anchor="middle" class="t">24360</text>
<text x="180.66" y="472.80" text-anchor="middle" class="t">24370</text>
<text x="225.24" y="472.80" text-anchor="middle" class="t">24380</text>
<text x="269.83" y="472.80" text-anchor="middle" class="t">24390</text>
<text x="314.41" y="472.80" text-anchor="middle" class="t">24400</text>
<text x="359.00" y="472.80" text-anchor="middle" class="t">24410</text>
<path d="M46.90,450.20 H39.10 M359.00,450.20 H352.00 M46.90,423.91 H39.10 M359.00,423.91 H352.00 M46.90,397.62 H39.10 M359.00,397.62 H352.00 M46.90,371.32 H39.10 M359.00,371.32 H352.00 M46.90,345.03 H39.10 M359.00,345.03 H352.00 M46.90,318.74 H39.10 M359.00,318.74 H352.00 M46.90,292.45 H39.10 M359.00,292.45 H352.00 M46.90,437.05 H43.30 M359.00,437.05 H355.40 M46.90,410.76 H43.30 M359.00,410.76 H355.40 M46.90,384.47 H43.30 M359.00,384.47 H355.40 M46.90,358.18 H43.30 M359.00,358.18 H355.40 M46.90,331.88 H43.30 M359.00,331.88 H355.40 M46.90,305.59 H43.30 M359.00,305.59 H355.40" stroke="#000" stroke-width="1.6" fill="none"/>
<text x="33.60" y="455.20" text-anchor="end" class="t">0.0</text>
<text x="33.60" y="428.91" text-anchor="end" class="t">0.2</text>
<text x="33.60" y="402.62" text-anchor="end" class="t">0.4</text>
<text x="33.60" y="376.32" text-anchor="end" class="t">0.6</text>
<text x="33.60" y="350.03" text-anchor="end" class="t">0.8</text>
<text x="33.60" y="323.74" text-anchor="end" class="t">1.0</text>
<text x="33.60" y="297.45" text-anchor="end" class="t">1.2</text>
<rect x="46.90" y="279.30" width="312.10" height="170.90" fill="none" stroke="#000" stroke-width="1.7"/>
<text transform="translate(10.10,363.95) rotate(-90)" text-anchor="middle" class="t" style="font-size:13.3px">Normalized μ<tspan font-style="italic">d</tspan></text>
<text x="202.95" y="495.50" text-anchor="middle" class="t" style="font-size:13.2px">Energy (eV)</text>
<text x="62.2" y="307.2" class="b">c</text>
<line x1="233.10" y1="353.60" x2="264.10" y2="353.60" stroke="#f96c1c" stroke-width="2.00"/>
<text x="267.30" y="358.60" class="t" style="fill:#f96c1c" textLength="25.37" lengthAdjust="spacingAndGlyphs">fresh</text>
<line x1="233.10" y1="370.40" x2="264.10" y2="370.40" stroke="#22a65f" stroke-width="2.00"/>
<text x="267.30" y="375.40" class="t" style="fill:#22a65f">3 h</text>
<line x1="233.10" y1="386.60" x2="264.10" y2="386.60" stroke="#ff3535" stroke-width="1.70" stroke-dasharray="4.9 1.8"/>
<text x="267.30" y="391.60" class="t" style="fill:#ff3535" textLength="50.92" lengthAdjust="spacingAndGlyphs">Pd(OAc)<tspan style="font-size:7.5px">2</tspan></text>
<line x1="233.10" y1="402.80" x2="264.10" y2="402.80" stroke="#444444" stroke-width="1.70" stroke-dasharray="4.9 1.8"/>
<text x="267.30" y="407.80" class="t" style="fill:#3c3c3c" textLength="35.29" lengthAdjust="spacingAndGlyphs">Pd foil</text>
<path d="M421.80,446.59 C423.08,446.35 426.88,445.45 429.50,445.18 C432.12,444.91 435.08,444.94 437.50,444.98 C439.92,445.01 442.00,445.21 444.00,445.38 C446.00,445.55 447.67,445.50 449.50,445.98 C451.33,446.47 453.00,448.29 455.00,448.29 C457.00,448.29 459.03,446.84 461.50,445.98 C463.97,445.13 467.22,443.52 469.80,443.17 C472.38,442.82 474.58,443.25 477.00,443.87 C479.42,444.49 481.77,446.95 484.30,446.89 C486.83,446.82 489.35,444.81 492.20,443.47 C495.05,442.13 499.10,439.60 501.40,438.85 C503.70,438.10 504.67,438.73 506.00,438.95 C507.33,439.17 507.97,439.40 509.40,440.16 C510.83,440.91 513.07,442.58 514.60,443.47 C516.13,444.36 517.05,446.13 518.60,445.48 C520.15,444.83 522.00,442.00 523.90,439.55 C525.80,437.11 527.83,433.14 530.00,430.81 C532.17,428.48 535.07,426.21 536.90,425.59 C538.73,424.97 539.65,425.52 541.00,427.09 C542.35,428.67 543.40,432.19 545.00,435.03 C546.60,437.88 548.85,444.64 550.60,444.17 C552.35,443.71 554.10,436.09 555.50,432.22 C556.90,428.35 557.72,425.20 559.00,420.97 C560.28,416.73 561.80,411.27 563.20,406.80 C564.60,402.33 566.00,397.66 567.40,394.14 C568.80,390.62 570.07,387.69 571.60,385.70 C573.13,383.71 574.95,382.18 576.60,382.18 C578.25,382.18 580.10,384.18 581.50,385.70 C582.90,387.22 583.98,389.55 585.00,391.33 C586.02,393.10 586.50,394.91 587.60,396.35 C588.70,397.79 590.38,400.07 591.60,399.97 C592.82,399.87 593.88,397.89 594.90,395.75 C595.92,393.60 596.55,391.21 597.70,387.11 C598.85,383.00 600.58,376.47 601.80,371.13 C603.02,365.79 603.93,360.42 605.00,355.06 C606.07,349.70 607.00,344.09 608.20,338.98 C609.40,333.87 610.85,328.05 612.20,324.41 C613.55,320.78 615.08,318.74 616.30,317.18 C617.52,315.62 618.42,314.80 619.50,315.07 C620.58,315.34 621.72,316.83 622.80,318.79 C623.88,320.75 624.93,323.34 626.00,326.83 C627.07,330.31 628.13,335.11 629.20,339.69 C630.27,344.26 631.33,349.68 632.40,354.25 C633.47,358.83 634.53,362.83 635.60,367.11 C636.67,371.40 637.82,375.64 638.80,379.97 C639.78,384.31 640.55,387.79 641.50,393.14 C642.45,398.48 643.43,406.06 644.50,412.02 C645.57,417.99 646.77,423.83 647.90,428.90 C649.03,433.98 650.37,439.64 651.30,442.47 C652.23,445.30 652.48,446.44 653.50,445.88 C654.52,445.32 656.02,441.41 657.40,439.10 C658.78,436.79 659.93,433.78 661.80,432.00 C663.67,430.22 666.15,428.35 668.60,428.40 C671.05,428.45 674.07,430.73 676.50,432.32 C678.93,433.91 681.15,436.62 683.20,437.95 C685.25,439.27 687.27,439.85 688.80,440.26 C690.33,440.66 690.58,440.64 692.40,440.36 C694.22,440.07 696.63,439.39 699.70,438.55 C702.77,437.71 707.72,435.57 710.80,435.33 C713.88,435.10 715.90,436.07 718.20,437.14 C720.50,438.21 722.45,440.29 724.60,441.76 C726.75,443.24 729.57,445.00 731.10,445.98 C732.63,446.97 733.35,447.41 733.80,447.69" fill="none" stroke="#444444" stroke-width="1.70" stroke-dasharray="4.9 1.8" stroke-linejoin="round" clip-path="url(#cd)"/>
<path d="M421.80,436.74 C423.03,435.60 426.58,431.70 429.20,429.91 C431.82,428.12 435.03,426.22 437.50,425.99 C439.97,425.75 441.70,427.43 444.00,428.50 C446.30,429.57 449.15,432.42 451.30,432.42 C453.45,432.42 455.05,430.38 456.90,428.50 C458.75,426.62 460.87,423.09 462.40,421.17 C463.93,419.24 464.57,417.98 466.10,416.95 C467.63,415.91 469.78,415.09 471.60,414.94 C473.42,414.79 475.35,415.74 477.00,416.04 C478.65,416.34 479.63,417.45 481.50,416.75 C483.37,416.04 485.98,413.97 488.20,411.82 C490.42,409.68 492.60,405.98 494.80,403.89 C497.00,401.79 499.42,400.59 501.40,399.26 C503.38,397.94 505.15,397.39 506.70,395.95 C508.25,394.51 509.60,392.40 510.70,390.62 C511.80,388.85 512.25,387.86 513.30,385.30 C514.35,382.74 515.72,379.59 517.00,375.25 C518.28,370.91 519.67,364.62 521.00,359.28 C522.33,353.93 523.67,348.29 525.00,343.20 C526.33,338.11 527.67,333.30 529.00,328.73 C530.33,324.16 531.67,319.00 533.00,315.77 C534.33,312.54 535.78,310.68 537.00,309.34 C538.22,308.00 539.08,307.60 540.30,307.73 C541.52,307.87 543.10,308.40 544.30,310.15 C545.50,311.89 546.43,314.82 547.50,318.18 C548.57,321.55 549.63,325.90 550.70,330.34 C551.77,334.78 552.97,340.52 553.90,344.81 C554.83,349.10 555.37,351.51 556.30,356.06 C557.23,360.62 558.70,367.75 559.50,372.14 C560.30,376.52 560.25,377.28 561.10,382.38 C561.95,387.49 563.43,396.32 564.60,402.78 C565.77,409.24 566.93,415.52 568.10,421.17 C569.27,426.81 570.38,432.80 571.60,436.64 C572.82,440.47 574.00,443.54 575.40,444.17 C576.80,444.81 578.38,441.63 580.00,440.46 C581.62,439.28 583.17,436.92 585.10,437.14 C587.03,437.36 589.52,440.22 591.60,441.76 C593.68,443.30 595.62,446.72 597.60,446.38 C599.58,446.05 601.20,441.63 603.50,439.75 C605.80,437.88 608.53,435.58 611.40,435.13 C614.27,434.68 618.05,437.38 620.70,437.04 C623.35,436.71 624.88,435.11 627.30,433.12 C629.72,431.13 632.60,427.53 635.20,425.08 C637.80,422.64 640.32,418.99 642.90,418.45 C645.48,417.92 648.28,420.28 650.70,421.87 C653.12,423.46 655.35,426.32 657.40,428.00 C659.45,429.67 661.13,431.16 663.00,431.92 C664.87,432.67 666.72,432.79 668.60,432.52 C670.48,432.25 672.05,431.06 674.30,430.31 C676.55,429.56 679.68,428.28 682.10,428.00 C684.52,427.71 686.78,428.43 688.80,428.60 C690.82,428.77 692.07,429.09 694.20,429.00 C696.33,428.92 699.30,428.25 701.60,428.10 C703.90,427.95 705.85,427.65 708.00,428.10 C710.15,428.55 712.50,429.66 714.50,430.81 C716.50,431.97 718.15,433.56 720.00,435.03 C721.85,436.50 723.90,438.26 725.60,439.65 C727.30,441.04 728.83,442.21 730.20,443.37 C731.57,444.53 733.20,446.05 733.80,446.58" fill="none" stroke="#ff3535" stroke-width="1.70" stroke-dasharray="4.9 1.8" stroke-linejoin="round" clip-path="url(#cd)"/>
<path d="M421.80,437.30 C423.00,436.40 426.50,433.23 429.00,431.90 C431.50,430.57 434.37,429.33 436.80,429.30 C439.23,429.27 441.35,430.85 443.60,431.70 C445.85,432.55 448.25,434.32 450.30,434.40 C452.35,434.48 453.85,434.00 455.90,432.20 C457.95,430.40 460.17,425.83 462.60,423.60 C465.03,421.37 468.07,419.42 470.50,418.80 C472.93,418.18 475.23,419.67 477.20,419.90 C479.17,420.13 479.93,421.22 482.30,420.20 C484.67,419.18 488.37,416.23 491.40,413.80 C494.43,411.37 497.45,408.03 500.50,405.60 C503.55,403.17 507.27,401.63 509.70,399.20 C512.13,396.77 513.62,394.12 515.10,391.00 C516.58,387.88 517.48,384.17 518.60,380.50 C519.72,376.83 520.67,373.00 521.80,369.00 C522.93,365.00 524.13,361.08 525.40,356.50 C526.67,351.92 528.07,346.40 529.40,341.50 C530.73,336.60 532.07,330.98 533.40,327.10 C534.73,323.22 536.07,320.08 537.40,318.20 C538.73,316.32 540.07,315.67 541.40,315.80 C542.73,315.93 544.18,317.12 545.40,319.00 C546.62,320.88 547.62,323.88 548.70,327.10 C549.78,330.32 550.83,334.30 551.90,338.30 C552.97,342.30 554.03,346.83 555.10,351.10 C556.17,355.37 557.37,359.92 558.30,363.90 C559.23,367.88 559.95,371.40 560.70,375.00 C561.45,378.60 562.03,381.83 562.80,385.50 C563.57,389.17 564.53,393.35 565.30,397.00 C566.07,400.65 566.58,402.73 567.40,407.40 C568.22,412.07 569.15,419.22 570.20,425.00 C571.25,430.78 572.32,440.85 573.70,442.10 C575.08,443.35 576.83,435.85 578.50,432.50 C580.17,429.15 581.92,424.35 583.70,422.00 C585.48,419.65 587.07,418.55 589.20,418.40 C591.33,418.25 594.42,419.20 596.50,421.10 C598.58,423.00 599.70,427.23 601.70,429.80 C603.70,432.37 606.25,434.92 608.50,436.50 C610.75,438.08 612.78,438.37 615.20,439.30 C617.62,440.23 620.57,440.92 623.00,442.10 C625.43,443.28 627.55,446.40 629.80,446.40 C632.05,446.40 634.08,443.47 636.50,442.10 C638.92,440.73 642.05,438.68 644.30,438.20 C646.55,437.72 648.13,438.28 650.00,439.20 C651.87,440.12 653.65,442.48 655.50,443.70 C657.35,444.92 659.40,446.95 661.10,446.50 C662.80,446.05 664.02,443.30 665.70,441.00 C667.38,438.70 669.35,434.78 671.20,432.70 C673.05,430.62 674.95,429.43 676.80,428.50 C678.65,427.57 680.47,427.10 682.30,427.10 C684.13,427.10 686.52,428.03 687.80,428.50 C689.08,428.97 688.72,428.90 690.00,429.90 C691.28,430.90 693.65,432.97 695.50,434.50 C697.35,436.03 699.25,438.48 701.10,439.10 C702.95,439.72 704.62,438.67 706.60,438.20 C708.58,437.73 711.17,436.68 713.00,436.30 C714.83,435.92 715.90,435.52 717.60,435.90 C719.30,436.28 721.35,437.60 723.20,438.60 C725.05,439.60 726.93,440.87 728.70,441.90 C730.47,442.93 732.95,444.32 733.80,444.80" fill="none" stroke="#f96c1c" stroke-width="2.00" stroke-linejoin="round" clip-path="url(#cd)"/>
<path d="M421.80,431.00 C423.18,431.55 427.42,433.20 430.10,434.30 C432.78,435.40 435.47,437.70 437.90,437.60 C440.33,437.50 442.27,435.28 444.70,433.70 C447.13,432.12 450.07,429.22 452.50,428.10 C454.93,426.98 456.50,426.92 459.30,427.00 C462.10,427.08 466.68,428.98 469.30,428.60 C471.92,428.22 473.22,426.28 475.00,424.70 C476.78,423.12 478.48,420.77 480.00,419.10 C481.52,417.43 482.20,416.40 484.10,414.70 C486.00,413.00 488.97,409.20 491.40,408.90 C493.83,408.60 496.27,411.57 498.70,412.90 C501.13,414.23 503.87,416.90 506.00,416.90 C508.13,416.90 509.67,416.30 511.50,412.90 C513.33,409.50 515.20,402.40 517.00,396.50 C518.80,390.60 520.63,383.73 522.30,377.50 C523.97,371.27 525.55,364.03 527.00,359.10 C528.45,354.17 529.67,350.97 531.00,347.90 C532.33,344.83 533.67,342.30 535.00,340.70 C536.33,339.10 537.67,338.30 539.00,338.30 C540.33,338.30 541.67,339.10 543.00,340.70 C544.33,342.30 545.65,344.83 547.00,347.90 C548.35,350.97 549.75,354.58 551.10,359.10 C552.45,363.62 553.92,370.60 555.10,375.00 C556.28,379.40 557.08,381.25 558.20,385.50 C559.32,389.75 560.75,396.25 561.80,400.50 C562.85,404.75 563.57,407.08 564.50,411.00 C565.43,414.92 566.57,420.42 567.40,424.00 C568.23,427.58 568.65,429.38 569.50,432.50 C570.35,435.62 571.20,442.07 572.50,442.70 C573.80,443.33 575.57,439.08 577.30,436.30 C579.03,433.52 580.92,428.53 582.90,426.00 C584.88,423.47 587.18,421.87 589.20,421.10 C591.22,420.33 592.92,420.33 595.00,421.40 C597.08,422.47 599.45,425.45 601.70,427.50 C603.95,429.55 605.88,431.83 608.50,433.70 C611.12,435.57 614.60,437.30 617.40,438.70 C620.20,440.10 622.68,441.17 625.30,442.10 C627.92,443.03 630.67,444.30 633.10,444.30 C635.53,444.30 637.47,442.93 639.90,442.10 C642.33,441.27 645.18,439.58 647.70,439.30 C650.22,439.02 653.38,440.20 655.00,440.40 C656.62,440.60 655.93,439.95 657.40,440.50 C658.87,441.05 661.95,442.85 663.80,443.70 C665.65,444.55 666.80,445.90 668.50,445.60 C670.20,445.30 672.17,443.37 674.00,441.90 C675.83,440.43 677.65,438.18 679.50,436.80 C681.35,435.42 683.25,434.28 685.10,433.60 C686.95,432.92 688.77,432.55 690.60,432.70 C692.43,432.85 694.20,433.73 696.10,434.50 C698.00,435.27 699.95,435.92 702.00,437.30 C704.05,438.68 706.25,441.20 708.40,442.80 C710.55,444.40 712.90,446.43 714.90,446.90 C716.90,447.37 718.40,446.28 720.40,445.60 C722.40,444.92 724.67,443.43 726.90,442.80 C729.13,442.17 732.65,441.97 733.80,441.80" fill="none" stroke="#22a65f" stroke-width="2.00" stroke-linejoin="round" clip-path="url(#cd)"/>
<path d="M421.80,450.20 V457.40 M421.80,279.30 V286.30 M460.80,450.20 V457.40 M460.80,279.30 V286.30 M499.80,450.20 V457.40 M499.80,279.30 V286.30 M538.80,450.20 V457.40 M538.80,279.30 V286.30 M577.80,450.20 V457.40 M577.80,279.30 V286.30 M616.80,450.20 V457.40 M616.80,279.30 V286.30 M655.80,450.20 V457.40 M655.80,279.30 V286.30 M694.80,450.20 V457.40 M694.80,279.30 V286.30 M733.80,450.20 V457.40 M733.80,279.30 V286.30 M429.60,450.20 V453.80 M429.60,279.30 V282.70 M437.40,450.20 V453.80 M437.40,279.30 V282.70 M445.20,450.20 V453.80 M445.20,279.30 V282.70 M453.00,450.20 V453.80 M453.00,279.30 V282.70 M468.60,450.20 V453.80 M468.60,279.30 V282.70 M476.40,450.20 V453.80 M476.40,279.30 V282.70 M484.20,450.20 V453.80 M484.20,279.30 V282.70 M492.00,450.20 V453.80 M492.00,279.30 V282.70 M507.60,450.20 V453.80 M507.60,279.30 V282.70 M515.40,450.20 V453.80 M515.40,279.30 V282.70 M523.20,450.20 V453.80 M523.20,279.30 V282.70 M531.00,450.20 V453.80 M531.00,279.30 V282.70 M546.60,450.20 V453.80 M546.60,279.30 V282.70 M554.40,450.20 V453.80 M554.40,279.30 V282.70 M562.20,450.20 V453.80 M562.20,279.30 V282.70 M570.00,450.20 V453.80 M570.00,279.30 V282.70 M585.60,450.20 V453.80 M585.60,279.30 V282.70 M593.40,450.20 V453.80 M593.40,279.30 V282.70 M601.20,450.20 V453.80 M601.20,279.30 V282.70 M609.00,450.20 V453.80 M609.00,279.30 V282.70 M624.60,450.20 V453.80 M624.60,279.30 V282.70 M632.40,450.20 V453.80 M632.40,279.30 V282.70 M640.20,450.20 V453.80 M640.20,279.30 V282.70 M648.00,450.20 V453.80 M648.00,279.30 V282.70 M663.60,450.20 V453.80 M663.60,279.30 V282.70 M671.40,450.20 V453.80 M671.40,279.30 V282.70 M679.20,450.20 V453.80 M679.20,279.30 V282.70 M687.00,450.20 V453.80 M687.00,279.30 V282.70 M702.60,450.20 V453.80 M702.60,279.30 V282.70 M710.40,450.20 V453.80 M710.40,279.30 V282.70 M718.20,450.20 V453.80 M718.20,279.30 V282.70 M726.00,450.20 V453.80 M726.00,279.30 V282.70" stroke="#000" stroke-width="1.6" fill="none"/>
<text x="421.80" y="472.80" text-anchor="middle" class="t">0.0</text>
<text x="460.80" y="472.80" text-anchor="middle" class="t">0.5</text>
<text x="499.80" y="472.80" text-anchor="middle" class="t">1.0</text>
<text x="538.80" y="472.80" text-anchor="middle" class="t">1.5</text>
<text x="577.80" y="472.80" text-anchor="middle" class="t">2.0</text>
<text x="616.80" y="472.80" text-anchor="middle" class="t">2.5</text>
<text x="655.80" y="472.80" text-anchor="middle" class="t">3.0</text>
<text x="694.80" y="472.80" text-anchor="middle" class="t">3.5</text>
<text x="733.80" y="472.80" text-anchor="middle" class="t">4.0</text>
<path d="M421.80,450.20 H414.00 M733.80,450.20 H726.80 M421.80,409.99 H414.00 M733.80,409.99 H726.80 M421.80,369.78 H414.00 M733.80,369.78 H726.80 M421.80,329.56 H414.00 M733.80,329.56 H726.80 M421.80,289.35 H414.00 M733.80,289.35 H726.80 M421.80,440.15 H418.20 M733.80,440.15 H730.20 M421.80,430.09 H418.20 M733.80,430.09 H730.20 M421.80,420.04 H418.20 M733.80,420.04 H730.20 M421.80,399.94 H418.20 M733.80,399.94 H730.20 M421.80,389.88 H418.20 M733.80,389.88 H730.20 M421.80,379.83 H418.20 M733.80,379.83 H730.20 M421.80,359.72 H418.20 M733.80,359.72 H730.20 M421.80,349.67 H418.20 M733.80,349.67 H730.20 M421.80,339.62 H418.20 M733.80,339.62 H730.20 M421.80,319.51 H418.20 M733.80,319.51 H730.20 M421.80,309.46 H418.20 M733.80,309.46 H730.20 M421.80,299.41 H418.20 M733.80,299.41 H730.20" stroke="#000" stroke-width="1.6" fill="none"/>
<text x="408.50" y="455.20" text-anchor="end" class="t">0.0</text>
<text x="408.50" y="414.99" text-anchor="end" class="t">0.4</text>
<text x="408.50" y="374.78" text-anchor="end" class="t">0.8</text>
<text x="408.50" y="334.56" text-anchor="end" class="t">1.2</text>
<text x="408.50" y="294.35" text-anchor="end" class="t">1.6</text>
<rect x="421.80" y="279.30" width="312.00" height="170.90" fill="none" stroke="#000" stroke-width="1.7"/>
<text transform="translate(385.00,363.95) rotate(-90)" text-anchor="middle" class="t" style="font-size:13.8px">|χ(<tspan font-style="italic">R</tspan>)| (Å<tspan style="font-size:9.5px" dy="-5.5">−3</tspan><tspan dy="5.5">)</tspan></text>
<text x="577.80" y="495.50" text-anchor="middle" class="t" style="font-size:13.2px"><tspan font-style="italic">R</tspan> − δ (Å)</text>
<text x="437" y="307.2" class="b">d</text>
<text x="516.00" y="304.10" class="s" fill="#22a65f">Pd – N/O</text>
<text x="665.8" y="336.4" class="t" style="font-size:14.7px">x 0.5</text>
<line x1="639.3" y1="352.3" x2="661.2" y2="340.4" stroke="#000" stroke-width="1.3"/>
</svg></body></html>
